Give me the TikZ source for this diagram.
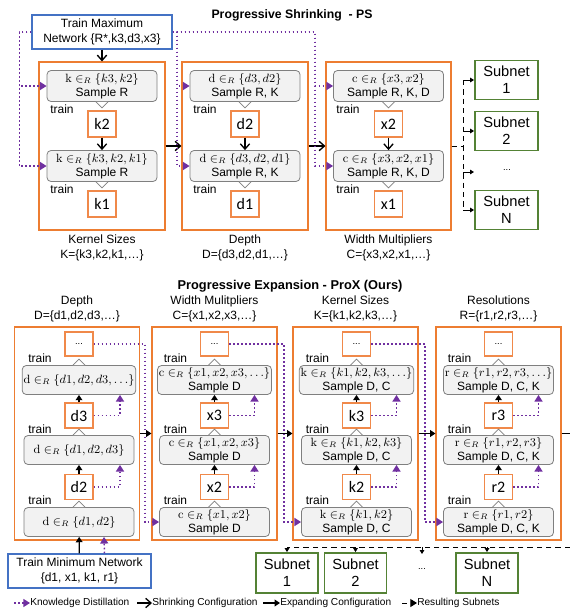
\documentclass[tikz,border=0pt]{standalone}
\usepackage[no-math]{fontspec}
\setmainfont{Liberation Sans}
\newfontfamily\calibfont{Carlito}
\usetikzlibrary{arrows.meta,positioning,calc}

\definecolor{panelorange}{HTML}{ED7D31}
\definecolor{valorange}{HTML}{F0894A}
\definecolor{boxgray}{HTML}{F2F2F2}
\definecolor{boxedge}{HTML}{7F7F7F}
\definecolor{netblue}{HTML}{4472C4}
\definecolor{subgreen}{HTML}{548235}
\definecolor{kdpurple}{HTML}{7030A0}

\tikzset{
  panel/.style={draw=panelorange, line width=0.8pt, minimum width=94.5pt, minimum height=126pt, inner sep=0pt},
  xpanel/.style={panel, minimum width=93.75pt, minimum height=159.75pt},
  psbox/.style={draw=boxedge, fill=boxgray, rounded corners=3pt, line width=0.6pt, align=center, minimum width=82.5pt, minimum height=23.25pt, inner sep=1pt, font=\fontsize{9}{10.5}\selectfont},
  xbox/.style={psbox, minimum height=21.75pt},
  valbox/.style={draw=valorange, fill=white, line width=1pt, minimum width=21pt, minimum height=19.5pt, inner sep=0pt, font=\calibfont\fontsize{12}{12}\selectfont},
  xval/.style={valbox, minimum height=18.75pt},
  dotbox/.style={valbox, minimum height=18pt, font=\fontsize{7}{7}\selectfont},
  trainlbl/.style={font=\fontsize{9}{9}\selectfont, inner sep=0pt},
  trainbox/.style={draw=netblue, line width=0.8pt, align=center, minimum height=25.5pt, inner sep=1pt, font=\fontsize{9}{11.5}\selectfont},
  subnet/.style={draw=subgreen, line width=1.4pt, align=center, font=\fontsize{11}{13}\selectfont, minimum width=47.25pt, minimum height=29.25pt, inner sep=0pt},
  collbl/.style={align=center, font=\fontsize{9}{11}\selectfont},
  tail/.style={draw=boxedge, fill=white, line width=0.6pt},
  shrink/.style={line width=1pt, -{Straight Barb[length=4pt,width=7pt]}},
  expand/.style={line width=1pt, -{Triangle[length=4pt,width=5pt]}},
  kd/.style={draw=kdpurple, line width=1.1pt, dash pattern=on 1.3pt off 1.7pt, -{Triangle[length=5pt,width=6pt]}},
  result/.style={line width=0.7pt, dash pattern=on 4pt off 3pt},
  stub/.style={line width=0.6pt, -{Triangle[length=3pt,width=3.5pt]}},
  legend/.style={font=\fontsize{7.6}{9}\selectfont, inner sep=0pt, anchor=west},
}

\begin{document}
\begin{tikzpicture}[x=0.75pt, y=-0.75pt, font=\fontsize{9}{11}\selectfont]
    \useasboundingbox (0,0) rectangle (570,611);

    % progressive shrinking
    \node[font=\bfseries\fontsize{9.2}{11}\selectfont] (pstitle) at (292,15) {Progressive Shrinking\ \ - PS};
    \node[trainbox, minimum width=105pt] (maxnet) at (102,32) {Train Maximum\\Network \{R*,k3,d3,x3\}};

    \node[panel] (p1) at (102,146) {};
    \node[panel] (p2) at (245,146) {};
    \node[panel, minimum width=93.75pt] (p3) at (388.5,146) {};
    \node[collbl, below=0pt of p1] (lk) {Kernel Sizes\\K=\{k3,k2,k1,…\}};
    \node[collbl, below=0pt of p2] (ld) {Depth\\D=\{d3,d2,d1,…\}};
    \node[collbl, below=0pt of p3] (lc) {Width Multipliers\\C=\{x3,x2,x1,…\}};

    \node[psbox] (s1a) at (102,86) {$\mathrm{k}\in_R\{k3,k2\}$\\Sample R};
    \node[psbox] (s1b) at (102,166) {$\mathrm{k}\in_R\{k3,k2,k1\}$\\Sample R};
    \node[valbox] (pk2) at (102,124) {k2};
    \node[valbox] (pk1) at (102,204) {k1};
    \node[trainlbl] (tr1a) at (62,109) {train};
    \node[trainlbl] (tr1b) at (62,189) {train};

    \node[psbox] (s2a) at (245,86) {$\mathrm{d}\in_R\{d3,d2\}$\\Sample R, K};
    \node[psbox] (s2b) at (245,166) {$\mathrm{d}\in_R\{d3,d2,d1\}$\\Sample R, K};
    \node[valbox] (pd2) at (245,124) {d2};
    \node[valbox] (pd1) at (245,204) {d1};
    \node[trainlbl] (tr2a) at (205,109) {train};
    \node[trainlbl] (tr2b) at (205,189) {train};

    \node[psbox] (s3a) at (388.5,86) {$\mathrm{c}\in_R\{x3,x2\}$\\Sample R, K, D};
    \node[psbox] (s3b) at (388.5,166) {$\mathrm{c}\in_R\{x3,x2,x1\}$\\Sample R, K, D};
    \node[valbox] (px2) at (388.5,124) {x2};
    \node[valbox] (px1) at (388.5,204) {x1};
    \node[trainlbl] (tr3a) at (348,109) {train};
    \node[trainlbl] (tr3b) at (348,189) {train};

    \draw[tail] (s1a.south) ++(-6,0) -- ++(6,6) -- ++(6,-6);
    \draw[tail] (s1b.south) ++(-6,0) -- ++(6,6) -- ++(6,-6);
    \draw[tail] (s2a.south) ++(-6,0) -- ++(6,6) -- ++(6,-6);
    \draw[tail] (s2b.south) ++(-6,0) -- ++(6,6) -- ++(6,-6);
    \draw[tail] (s3a.south) ++(-6,0) -- ++(6,6) -- ++(6,-6);
    \draw[tail] (s3b.south) ++(-6,0) -- ++(6,6) -- ++(6,-6);

    \draw[shrink] (maxnet) -- (p1);
    \draw[shrink] (pk2) -- (s1b);
    \draw[shrink] (pd2) -- (s2b);
    \draw[shrink] (px2) -- (s3b);
    \draw[shrink] (p1) -- (p2);
    \draw[shrink] (p2) -- (p3);

    \coordinate (kda) at (177,32);
    \coordinate (kdb) at (315,32);
    \draw[kd] (maxnet.west) -- ++(-12,0) |- (s1a.west);
    \draw[kd] (maxnet.west) -- ++(-12,0) |- (s1b.west);
    \draw[kd] (maxnet.east) -- (kda) |- (s2a.west);
    \draw[kd] (maxnet.east) -- (kda) |- (s2b.west);
    \draw[kd] (maxnet.east) -- (kdb) |- (s3a.west);
    \draw[kd] (maxnet.east) -- (kdb) |- (s3b.west);

    \node[subnet] (sn1) at (506.5,80) {Subnet\\1};
    \node[subnet] (sn2) at (506.5,131) {Subnet\\2};
    \node[font=\fontsize{7}{7}\selectfont] (sndots) at (507,170) {...};
    \node[subnet] (snN) at (506.5,210) {Subnet\\N};
    \coordinate (sj) at (463,146);
    \coordinate (sdots) at (474,172);
    \draw[result] (p3.east) -- (sj);
    \draw[result] (sj |- sn1) -- (sj |- snN);
    \draw[stub] (sj |- sn1) -- (sn1.west);
    \draw[stub] (sj |- sn2) -- (sn2.west);
    \draw[stub] (sj |- sdots) -- (sdots);
    \draw[stub] (sj |- snN) -- (snN.west);

    % progressive expansion
    \node[font=\bfseries\fontsize{9.6}{11}\selectfont] (xtitle) at (290,286) {Progressive Expansion - ProX (Ours)};

    \node[xpanel] (q1) at (77,433.5) {};
    \node[xpanel] (q2) at (214.5,433.5) {};
    \node[xpanel] (q3) at (355.5,433.5) {};
    \node[xpanel] (q4) at (498.5,433.5) {};
    \node[collbl, above=0pt of q1] (ld1) {Depth\\D=\{d1,d2,d3,…\}};
    \node[collbl, above=0pt of q2] (lc1) {Width Mulitpliers\\C=\{x1,x2,x3,…\}};
    \node[collbl, above=0pt of q3] (lk1) {Kernel Sizes\\K=\{k1,k2,k3,…\}};
    \node[collbl, above=0pt of q4] (lr1) {Resolutions\\R=\{r1,r2,r3,…\}};

    \node[dotbox] (top1) at (79,344) {...};
    \node[xbox] (e1a) at (79,380) {$\mathrm{d}\in_R\{d1,d2,d3,\ldots\}$};
    \node[xval] (ed3) at (79,415.5) {d3};
    \node[xbox] (e1b) at (79,450) {$\mathrm{d}\in_R\{d1,d2,d3\}$};
    \node[xval] (ed2) at (79,487) {d2};
    \node[xbox] (e1c) at (79,522) {$\mathrm{d}\in_R\{d1,d2\}$};

    \node[dotbox] (top2) at (214.5,344) {...};
    \node[xbox] (e2a) at (214.5,380) {$\mathrm{c}\in_R\{x1,x2,x3,\ldots\}$\\Sample D};
    \node[xval] (ex3) at (214.5,415.5) {x3};
    \node[xbox] (e2b) at (214.5,450) {$\mathrm{c}\in_R\{x1,x2,x3\}$\\Sample D};
    \node[xval] (ex2) at (214.5,487) {x2};
    \node[xbox] (e2c) at (214.5,522) {$\mathrm{c}\in_R\{x1,x2\}$\\Sample D};

    \node[dotbox] (top3) at (356.5,344) {...};
    \node[xbox] (e3a) at (356.5,380) {$\mathrm{k}\in_R\{k1,k2,k3,\ldots\}$\\Sample D, C};
    \node[xval] (ek3) at (356.5,415.5) {k3};
    \node[xbox] (e3b) at (356.5,450) {$\mathrm{k}\in_R\{k1,k2,k3\}$\\Sample D, C};
    \node[xval] (ek2) at (356.5,487) {k2};
    \node[xbox] (e3c) at (356.5,522) {$\mathrm{k}\in_R\{k1,k2\}$\\Sample D, C};

    \node[dotbox] (top4) at (498.5,344) {...};
    \node[xbox] (e4a) at (498.5,380) {$\mathrm{r}\in_R\{r1,r2,r3,\ldots\}$\\Sample D, C, K};
    \node[xval] (er3) at (498.5,415.5) {r3};
    \node[xbox] (e4b) at (498.5,450) {$\mathrm{r}\in_R\{r1,r2,r3\}$\\Sample D, C, K};
    \node[xval] (er2) at (498.5,487) {r2};
    \node[xbox] (e4c) at (498.5,522) {$\mathrm{r}\in_R\{r1,r2\}$\\Sample D, C, K};

    \node[trainlbl] (tx1a) at (40,358) {train};
    \node[trainlbl] (tx1b) at (40,429) {train};
    \node[trainlbl] (tx1c) at (40,500) {train};
    \node[trainlbl] (tx2a) at (175.5,358) {train};
    \node[trainlbl] (tx2b) at (175.5,429) {train};
    \node[trainlbl] (tx2c) at (175.5,500) {train};
    \node[trainlbl] (tx3a) at (317.5,358) {train};
    \node[trainlbl] (tx3b) at (317.5,429) {train};
    \node[trainlbl] (tx3c) at (317.5,500) {train};
    \node[trainlbl] (tx4a) at (459.5,358) {train};
    \node[trainlbl] (tx4b) at (459.5,429) {train};
    \node[trainlbl] (tx4c) at (459.5,500) {train};

    \draw[tail] (e1a.north) ++(-6,0) -- ++(6,-6) -- ++(6,6);
    \draw[tail] (e1b.north) ++(-6,0) -- ++(6,-6) -- ++(6,6);
    \draw[tail] (e1c.north) ++(-6,0) -- ++(6,-6) -- ++(6,6);
    \draw[tail] (e2a.north) ++(-6,0) -- ++(6,-6) -- ++(6,6);
    \draw[tail] (e2b.north) ++(-6,0) -- ++(6,-6) -- ++(6,6);
    \draw[tail] (e2c.north) ++(-6,0) -- ++(6,-6) -- ++(6,6);
    \draw[tail] (e3a.north) ++(-6,0) -- ++(6,-6) -- ++(6,6);
    \draw[tail] (e3b.north) ++(-6,0) -- ++(6,-6) -- ++(6,6);
    \draw[tail] (e3c.north) ++(-6,0) -- ++(6,-6) -- ++(6,6);
    \draw[tail] (e4a.north) ++(-6,0) -- ++(6,-6) -- ++(6,6);
    \draw[tail] (e4b.north) ++(-6,0) -- ++(6,-6) -- ++(6,6);
    \draw[tail] (e4c.north) ++(-6,0) -- ++(6,-6) -- ++(6,6);

    \draw[expand] (ed3) -- (e1a);
    \draw[expand] (ed2) -- (e1b);
    \draw[expand] (ex3) -- (e2a);
    \draw[expand] (ex2) -- (e2b);
    \draw[expand] (ek3) -- (e3a);
    \draw[expand] (ek2) -- (e3b);
    \draw[expand] (er3) -- (e4a);
    \draw[expand] (er2) -- (e4b);

    \draw[kd] (ed3.east) -| ($(e1a.south)+(41,0)$);
    \draw[kd] (ed2.east) -| ($(e1b.south)+(41,0)$);
    \draw[kd] (ex3.east) -| ($(e2a.south)+(40,0)$);
    \draw[kd] (ex2.east) -| ($(e2b.south)+(40,0)$);
    \draw[kd] (ek3.east) -| ($(e3a.south)+(40,0)$);
    \draw[kd] (ek2.east) -| ($(e3b.south)+(40,0)$);
    \draw[kd] (er3.east) -| ($(e4a.south)+(40,0)$);
    \draw[kd] (er2.east) -| ($(e4b.south)+(40,0)$);

    \coordinate (kx1) at (145,344);
    \coordinate (kx2) at (284,344);
    \coordinate (kx3) at (425,344);
    \draw[kd] (top1.east) -- (kx1) |- (e2c.west);
    \draw[kd] (top2.east) -- (kx2) |- (e3c.west);
    \draw[kd] (top3.east) -- (kx3) |- (e4c.west);

    \draw[expand] (q1) -- (q2);
    \draw[expand] (q2) -- (q3);
    \draw[expand] (q3) -- (q4);
    \coordinate (qend) at (570,433.5);
    \draw[line width=1pt] (q4.east) -- (qend);

    \node[trainbox, minimum width=107.25pt] (minnet) at (79.5,571) {Train Minimum Network\\\{d1, x1, k1, r1\}};
    \draw[expand] (minnet) -- (e1c);
    \draw[kd] ($(minnet.north)+(25,0)$) -- ($(e1c.south)+(25,0)$);

    \node[subnet, minimum width=46.5pt, minimum height=30pt] (sub1) at (287,573) {Subnet\\1};
    \node[subnet, minimum width=46.5pt, minimum height=30pt] (sub2) at (355.5,573) {Subnet\\2};
    \node[font=\fontsize{7}{7}\selectfont] (subdots) at (422,569) {...};
    \node[subnet, minimum width=46.5pt, minimum height=30pt] (subN) at (487,573) {Subnet\\N};
    \coordinate (ra) at (570,547);
    \coordinate (rb) at (287,547);
    \draw[result] (ra) -- (rb);
    \draw[stub] (rb) -- (sub1);
    \draw[stub] (sub2 |- ra) -- (sub2);
    \draw[stub] (subdots |- ra) -- ++(0,7);
    \draw[stub] (subN |- ra) -- (subN);

    % legend
    \coordinate (lg1) at (14,603);
    \node[legend] (lgkd) at (30,603) {Knowledge Distillation};
    \draw[kd] (lg1) -- (lgkd.west);
    \coordinate (lg2) at (137,603);
    \node[legend] (lgsh) at (152,603) {Shrinking Configuration};
    \draw[shrink] (lg2) -- (lgsh.west);
    \coordinate (lg3) at (263,603);
    \node[legend] (lgex) at (280,603) {Expanding Configuration};
    \draw[expand] (lg3) -- (lgex.west);
    \coordinate (lg4) at (402,603);
    \node[legend] (lgre) at (417,603) {Resulting Subnets};
    \draw[result, -{Triangle[length=5pt,width=6pt]}] (lg4) -- (lgre.west);
\end{tikzpicture}
\end{document}
